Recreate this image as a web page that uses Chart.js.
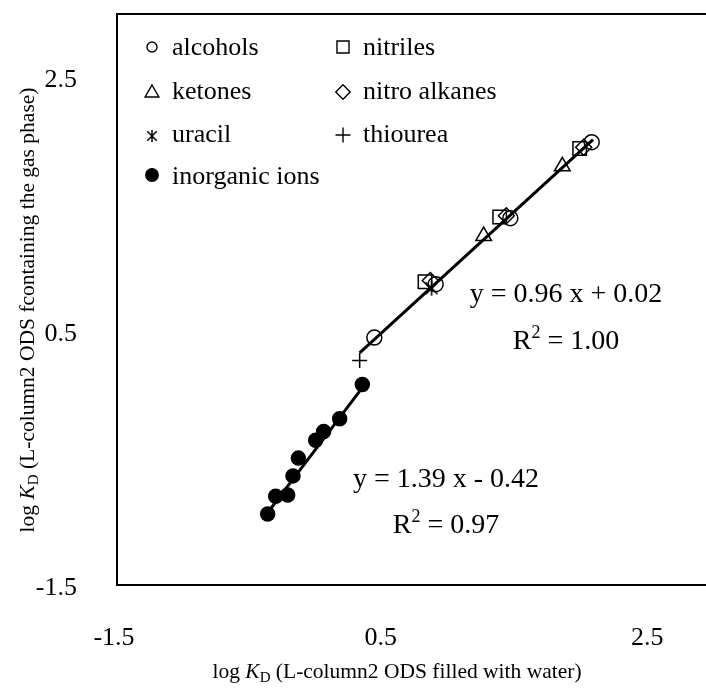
<!DOCTYPE html>
<html>
<head>
<meta charset="utf-8">
<script src="https://cdn.jsdelivr.net/npm/chart.js@4/dist/chart.umd.min.js"></script>
<style>
  html, body { margin: 0; padding: 0; overflow: hidden; background: #fff; }
</style>
</head>
<body>
<canvas id="monGraphique" width="730" height="689"></canvas>
<script>
// Valeurs (log KD eau / log KD phase gazeuse)
const alcoholsX = [0.43, 0.89, 1.45, 2.06];
const alcoholsY = [0.45, 0.87, 1.39, 1.99];
const nitrilesX = [0.81, 1.37, 1.97];
const nitrilesY = [0.89, 1.40, 1.94];
const ketonesX = [1.25, 1.84];
const ketonesY = [1.25, 1.80];
const nitroX = [0.85, 1.42, 2.00];
const nitroY = [0.90, 1.41, 1.95];
const uracilX = [0.86];
const uracilY = [0.84];
const thioureaX = [0.32];
const thioureaY = [0.27];
const ionsX = [0.34, 0.17, 0.05, -0.01, -0.14, -0.18, -0.22, -0.31, -0.37];
const ionsY = [0.08, -0.19, -0.29, -0.36, -0.50, -0.64, -0.79, -0.80, -0.94];

// Droites de tendance (extrémités)
const fitOrgX = [0.32, 2.07];
const fitOrgY = [0.33, 2.01];
const fitIonX = [-0.37, 0.35];
const fitIonY = [-0.93, 0.07];

const xTicks = [-1.5, 0.5, 2.5];
const yTicks = [-1.5, 0.5, 2.5];

const FONT = '"Liberation Serif", "Times New Roman", serif';

function pts(xs, ys) {
    return xs.map((x, i) => ({ x: x, y: ys[i] }));
}

// Marqueur "étoile" façon Excel : X + barre verticale
function makeStar(size, lw) {
    const c = document.createElement('canvas');
    c.width = size; c.height = size;
    const g = c.getContext('2d');
    const m = size / 2, r = size / 2 - 1;
    g.strokeStyle = '#000';
    g.lineWidth = lw;
    g.beginPath();
    g.moveTo(m, m - r); g.lineTo(m, m + r);
    g.moveTo(m - r * 0.8, m - r * 0.8); g.lineTo(m + r * 0.8, m + r * 0.8);
    g.moveTo(m + r * 0.8, m - r * 0.8); g.lineTo(m - r * 0.8, m + r * 0.8);
    g.stroke();
    return c;
}
const starPlot = makeStar(17, 1.6);
const starLegend = makeStar(14, 1.5);

function markers(label, data, style, radius, filled) {
    return {
        label: label,
        data: data,
        showLine: false,
        pointStyle: style,
        pointRadius: radius,
        pointHoverRadius: radius,
        pointBorderWidth: 1.5,
        borderColor: '#000',
        pointBorderColor: '#000',
        pointBackgroundColor: filled ? '#000' : 'rgba(0,0,0,0)',
        backgroundColor: filled ? '#000' : 'rgba(0,0,0,0)'
    };
}

function trend(data) {
    return {
        data: data,
        showLine: true,
        pointRadius: 0,
        borderColor: '#000',
        borderWidth: 3
    };
}

// Texte avec morceaux de styles différents (italique, indice, exposant)
function drawRich(ctx, parts, x, y) {
    let total = 0;
    parts.forEach(p => { ctx.font = p.f; total += ctx.measureText(p.t).width; });
    let cx = x - total / 2;
    parts.forEach(p => {
        ctx.font = p.f;
        ctx.fillText(p.t, cx, y + (p.dy || 0));
        cx += ctx.measureText(p.t).width;
    });
}

const decorations = {
    id: 'decorations',
    afterDraw(chart) {
        const ctx = chart.ctx;
        const a = chart.chartArea;
        const h = Chart.helpers;
        ctx.save();

        // cadre du graphique
        ctx.strokeStyle = '#000';
        ctx.lineWidth = 2;
        ctx.strokeRect(a.left, a.top, a.right - a.left, a.bottom - a.top);

        // légende à l'intérieur
        const legend = [
            { s: 'circle', r: 5, x: 152, y: 47, t: 'alcohols', ty: 55, fill: false },
            { s: 'triangle', r: 8, x: 152, y: 93, t: 'ketones', ty: 99, fill: false },
            { s: starLegend, r: 7, x: 152, y: 136, t: 'uracil', ty: 142, fill: false },
            { s: 'circle', r: 6.2, x: 152, y: 175, t: 'inorganic ions', ty: 184, fill: true },
            { s: 'rect', r: 8.5, x: 343, y: 47, t: 'nitriles', ty: 55, fill: false },
            { s: 'rectRot', r: 7.2, x: 343, y: 92, t: 'nitro alkanes', ty: 99, fill: false },
            { s: 'cross', r: 7.5, x: 343, y: 135, t: 'thiourea', ty: 142, fill: false }
        ];
        legend.forEach(item => {
            ctx.strokeStyle = '#000';
            ctx.lineWidth = 1.4;
            ctx.fillStyle = item.fill ? '#000' : 'rgba(0,0,0,0)';
            h.drawPoint(ctx, { pointStyle: item.s, radius: item.r, rotation: 0, borderWidth: 1.4 }, item.x, item.y);
            ctx.fillStyle = '#000';
            ctx.font = '26px ' + FONT;
            ctx.textAlign = 'left';
            ctx.textBaseline = 'alphabetic';
            ctx.fillText(item.t, item.x + 20, item.ty);
        });

        // équations des droites
        const big = '28px ' + FONT;
        const sup = '18px ' + FONT;
        ctx.textAlign = 'left';
        drawRich(ctx, [{ t: 'y = 0.96 x + 0.02', f: big }], 566, 302);
        drawRich(ctx, [{ t: 'R', f: big }, { t: '2', f: sup, dy: -11 }, { t: ' = 1.00', f: big }], 566, 349);
        drawRich(ctx, [{ t: 'y = 1.39 x - 0.42', f: big }], 446, 487);
        drawRich(ctx, [{ t: 'R', f: big }, { t: '2', f: sup, dy: -11 }, { t: ' = 0.97', f: big }], 446, 533);

        // titres des axes
        const tf = '21.5px ' + FONT;
        const ti = 'italic 21.5px ' + FONT;
        const ts = '15px ' + FONT;
        drawRich(ctx, [
            { t: 'log ', f: tf }, { t: 'K', f: ti }, { t: 'D', f: ts, dy: 4 },
            { t: ' (L-column2 ODS filled with water)', f: tf }
        ], 397, 678);

        ctx.translate(34, 310);
        ctx.rotate(-Math.PI / 2);
        drawRich(ctx, [
            { t: 'log ', f: tf }, { t: 'K', f: ti }, { t: 'D', f: ts, dy: 4 },
            { t: ' (L-column2 ODS fcontaining the gas phase)', f: tf }
        ], 0, 0);

        ctx.restore();
    }
};

const ctx = document.getElementById('monGraphique').getContext('2d');
const myChart = new Chart(ctx, {
    type: 'scatter',
    data: {
        datasets: [
            trend(pts(fitOrgX, fitOrgY)),
            trend(pts(fitIonX, fitIonY)),
            markers('alcohols', pts(alcoholsX, alcoholsY), 'circle', 7.5, false),
            markers('nitriles', pts(nitrilesX, nitrilesY), 'rect', 9.5, false),
            markers('ketones', pts(ketonesX, ketonesY), 'triangle', 9, false),
            markers('nitro alkanes', pts(nitroX, nitroY), 'rectRot', 8, false),
            markers('uracil', pts(uracilX, uracilY), starPlot, 8.5, false),
            markers('thiourea', pts(thioureaX, thioureaY), 'cross', 7.5, false),
            markers('inorganic ions', pts(ionsX, ionsY), 'circle', 7, true)
        ]
    },
    options: {
        responsive: false,
        animation: false,
        devicePixelRatio: 1,
        layout: { padding: { top: 14, right: 13, left: 0, bottom: 0 } },
        plugins: {
            legend: { display: false },
            tooltip: { enabled: false }
        },
        scales: {
            x: {
                type: 'linear',
                min: -1.5,
                max: 3.0,
                grid: { display: false },
                border: { display: false },
                afterBuildTicks: s => { s.ticks = xTicks.map(v => ({ value: v })); },
                afterFit: s => { s.height = 104; s.paddingLeft = 0; s.paddingRight = 0; },
                ticks: {
                    color: '#000',
                    padding: 30,
                    labelOffset: -3,
                    maxRotation: 0,
                    font: { family: FONT, size: 26 },
                    callback: v => v.toFixed(1)
                }
            },
            y: {
                type: 'linear',
                min: -1.5,
                max: 3.0,
                grid: { display: false },
                border: { display: false },
                afterBuildTicks: s => { s.ticks = yTicks.map(v => ({ value: v })); },
                afterFit: s => { s.width = 117; s.paddingTop = 0; s.paddingBottom = 0; },
                ticks: {
                    color: '#000',
                    padding: 32,
                    labelOffset: 3,
                    font: { family: FONT, size: 26 },
                    callback: v => v.toFixed(1)
                }
            }
        }
    },
    plugins: [decorations]
});
</script>
</body>
</html>
